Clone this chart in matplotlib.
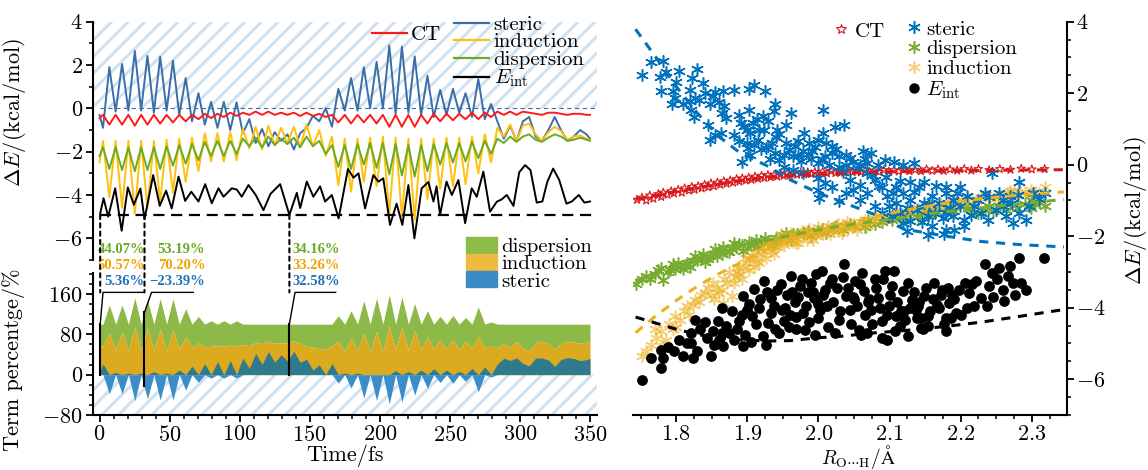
import numpy as np
import matplotlib.pyplot as plt
from matplotlib.patches import Patch, ConnectionPatch
from matplotlib.lines import Line2D
from matplotlib.ticker import MultipleLocator

plt.rcParams['font.family'] = 'serif'
plt.rcParams['font.serif'] = ['cmr10']
plt.rcParams['mathtext.fontset'] = 'cm'
plt.rcParams['axes.formatter.use_mathtext'] = True
plt.rcParams['hatch.linewidth'] = 2.2

# ---------------- left panel: energy terms along the trajectory ----------------
time_fs = [0, 2.5, 7.0, 11.5, 16.1, 20.6, 25.2, 29.7, 34.2, 38.8,
           43.3, 47.9, 52.4, 56.9, 61.5, 66.0, 70.6, 75.1, 79.6, 84.2,
           88.7, 93.3, 97.8, 102.3, 106.9, 111.4, 116.0, 120.5, 125.0, 129.6,
           134.1, 138.7, 143.2, 147.7, 152.3, 156.8, 161.4, 165.9, 170.4, 175.0,
           179.5, 184.1, 188.6, 193.1, 197.7, 202.2, 206.8, 211.3, 215.8, 220.4,
           224.9, 229.5, 234.0, 238.5, 243.1, 247.6, 252.2, 256.7, 261.2, 265.8,
           270.3, 274.9, 279.4, 283.9, 288.5, 293.0, 297.6, 302.1, 306.6, 311.2,
           315.7, 320.3, 324.8, 329.3, 333.9, 338.4, 343.0, 347.5, 350.0]

steric = [-0.3, -0.9, 1.9, -0.15, 2.05, -0.1, 2.65, -0.1, 2.42, -0.2,
          2.38, -0.1, 2.2, -0.3, 1.4, -0.6, 0.7, -0.75, 0.3, -0.9,
          0.3, -1.0, 0.28, -1.15, -0.5, -1.6, -0.95, -1.75, -1.1, -1.5,
          -1.2, -1.9, -1.15, -0.9, -0.35, -0.6, 0.0, -0.85, 0.9, -0.1,
          1.4, -0.1, 1.9, 0.0, 2.15, 0.0, 2.9, -0.25, 2.85, -0.2,
          2.4, -0.3, 1.5, -0.4, 0.85, -0.3, 0.9, -0.2, 0.7, -0.4,
          1.35, -0.5, 0.2, -0.6, -1.4, -0.8, -1.5, -0.6, -0.4, -1.3,
          -1.5, -1.0, -0.4, -1.0, -1.5, -1.3, -1.0, -1.2, -1.4]

induction = [-2.5, -1.5, -4.1, -1.5, -4.6, -1.5, -4.85, -1.5, -4.6, -1.5,
             -4.3, -1.45, -3.9, -1.4, -3.4, -1.35, -2.9, -1.15, -2.45, -1.15,
             -2.45, -1.1, -2.4, -0.95, -1.85, -0.85, -1.9, -0.8, -1.7, -0.9,
             -1.6, -0.85, -1.8, -0.75, -1.75, -1.0, -2.2, -1.3, -3.55, -1.4,
             -3.85, -1.4, -3.4, -1.35, -3.6, -1.3, -4.85, -1.35, -5.0, -1.4,
             -5.15, -1.4, -4.2, -1.4, -3.7, -1.35, -3.6, -1.35, -3.5, -1.3,
             -3.0, -1.2, -2.5, -0.9, -1.3, -0.75, -1.5, -0.8, -0.7, -1.2,
             -1.5, -1.1, -0.85, -1.05, -1.45, -1.3, -1.25, -1.4, -1.45]

dispersion = [-2.2, -1.8, -2.8, -1.8, -2.85, -1.8, -2.9, -1.8, -2.85, -1.8,
              -2.8, -1.75, -2.65, -1.7, -2.55, -1.65, -2.4, -1.55, -2.2, -1.5,
              -2.2, -1.5, -2.1, -1.4, -1.75, -1.35, -1.8, -1.3, -1.7, -1.4,
              -1.65, -1.35, -1.8, -1.3, -1.75, -1.5, -2.1, -1.7, -2.7, -1.7,
              -2.8, -1.65, -2.6, -1.6, -2.75, -1.6, -3.05, -1.65, -3.1, -1.7,
              -3.15, -1.7, -2.9, -1.65, -2.6, -1.6, -2.5, -1.6, -2.45, -1.55,
              -2.3, -1.5, -2.1, -1.4, -1.6, -1.3, -1.55, -1.3, -1.2, -1.45,
              -1.55, -1.35, -1.2, -1.3, -1.5, -1.45, -1.35, -1.45, -1.5]

ct = [-0.45, -0.3, -0.75, -0.3, -0.75, -0.3, -0.8, -0.3, -0.75, -0.3,
      -0.7, -0.3, -0.65, -0.3, -0.6, -0.3, -0.5, -0.25, -0.45, -0.25,
      -0.4, -0.2, -0.35, -0.2, -0.3, -0.15, -0.3, -0.15, -0.3, -0.2,
      -0.3, -0.2, -0.35, -0.2, -0.35, -0.25, -0.4, -0.3, -0.65, -0.3,
      -0.7, -0.3, -0.65, -0.3, -0.7, -0.3, -0.85, -0.3, -0.85, -0.3,
      -0.85, -0.3, -0.7, -0.25, -0.6, -0.25, -0.55, -0.25, -0.5, -0.2,
      -0.5, -0.2, -0.4, -0.15, -0.3, -0.15, -0.3, -0.15, -0.2, -0.25,
      -0.3, -0.2, -0.2, -0.25, -0.3, -0.25, -0.25, -0.3, -0.3]

time_int = [0.5, 2.9, 6.2, 11.2, 15.8, 20.2, 24.5, 29.2, 32.1, 38.3,
            43.0, 47.5, 51.5, 56.4, 61.1, 65.5, 70.6, 75.4, 80.1, 84.9,
            88.5, 94.4, 98.0, 101.5, 106.3, 111.5, 117.0, 122.0, 128.9, 135.5,
            140.8, 143.2, 147.9, 152.6, 157.4, 161.0, 165.8, 170.6, 177.3, 181.2,
            184.8, 189.5, 195.4, 199.0, 202.5, 207.3, 212.0, 216.1, 220.4, 224.7,
            229.9, 234.7, 238.3, 240.5, 243.0, 247.6, 251.4, 256.1, 260.9, 265.6,
            269.2, 273.9, 278.7, 283.5, 287.0, 290.6, 295.4, 299.5, 303.7, 307.5,
            312.0, 316.0, 319.5, 323.7, 328.0, 333.2, 337.0, 342.0, 346.0, 350.0]
e_int = [-4.85, -4.15, -5.0, -3.69, -5.65, -3.65, -4.45, -3.7, -5.12, -3.08,
         -4.5, -3.8, -4.62, -3.15, -4.27, -3.85, -4.3, -3.5, -4.38, -3.69,
         -4.08, -3.69, -3.75, -4.08, -3.54, -4.0, -4.7, -3.95, -3.5, -4.92,
         -3.9, -4.6, -3.38, -4.08, -3.6, -4.3, -4.0, -5.08, -2.8, -3.2,
         -3.0, -4.62, -3.08, -3.38, -3.23, -5.38, -4.4, -5.38, -3.54, -6.0,
         -3.69, -3.4, -4.3, -3.6, -4.92, -3.38, -4.0, -3.31, -5.3, -3.69,
         -4.08, -2.92, -4.77, -4.31, -4.2, -4.0, -4.5, -2.95, -2.62, -2.85,
         -4.35, -4.3, -3.4, -2.78, -3.3, -4.4, -4.3, -4.0, -4.35, -4.3]

e_int_min = -4.92
ann_t = [0.5, 32.1, 135.5]
ann_disp = [44.07, 53.19, 34.16]
ann_ind = [50.57, 70.20, 33.26]
ann_ster = [5.36, -23.39, 32.58]

# ---------------- right panel: terms vs O...H distance ----------------
ct_R = [1.745, 1.752, 1.758, 1.763, 1.768, 1.775, 1.779, 1.782, 1.788, 1.793,
        1.797, 1.803, 1.808, 1.812, 1.818, 1.822, 1.826, 1.831, 1.836, 1.84,
        1.845, 1.849, 1.853, 1.858, 1.862, 1.867, 1.871, 1.876, 1.88, 1.885,
        1.889, 1.893, 1.898, 1.902, 1.906, 1.911, 1.915, 1.92, 1.924, 1.929,
        1.933, 1.938, 1.942, 1.947, 1.951, 1.956, 1.96, 1.965, 1.97, 1.975,
        1.98, 1.985, 1.99, 1.995, 2.0, 2.006, 2.012, 2.018, 2.024, 2.03,
        2.036, 2.042, 2.048, 2.054, 2.06, 2.066, 2.072, 2.078, 2.085, 2.092,
        2.099, 2.106, 2.113, 2.12, 2.128, 2.136, 2.144, 2.152, 2.16, 2.168,
        2.176, 2.185, 2.195, 2.205, 2.215, 2.225, 2.24, 2.255, 2.27, 2.285,
        2.3, 2.318]
ct_E = [-0.98, -0.92, -1.0, -0.86, -0.95, -0.82, -0.9, -0.78, -0.84, -0.74,
        -0.8, -0.7, -0.78, -0.66, -0.72, -0.62, -0.7, -0.6, -0.66, -0.56,
        -0.63, -0.52, -0.6, -0.5, -0.56, -0.46, -0.53, -0.44, -0.5, -0.4,
        -0.47, -0.38, -0.44, -0.36, -0.42, -0.33, -0.39, -0.31, -0.37, -0.29,
        -0.35, -0.28, -0.33, -0.26, -0.31, -0.24, -0.3, -0.23, -0.28, -0.22,
        -0.27, -0.21, -0.26, -0.2, -0.25, -0.19, -0.24, -0.18, -0.23, -0.18,
        -0.22, -0.17, -0.21, -0.17, -0.21, -0.16, -0.2, -0.16, -0.2, -0.15,
        -0.19, -0.15, -0.19, -0.14, -0.18, -0.14, -0.18, -0.13, -0.17, -0.13,
        -0.17, -0.13, -0.16, -0.12, -0.16, -0.12, -0.15, -0.12, -0.14, -0.11,
        -0.13, -0.12]

ster_R = [1.7515, 1.765, 1.7815, 1.778, 1.7865, 1.804, 1.823, 1.83, 1.838, 1.779,
          1.795, 1.794, 1.799, 1.81, 1.819, 1.8265, 1.8215, 1.825, 1.8315, 1.848,
          1.8515, 1.855, 1.8665, 1.8815, 1.903, 1.91, 1.925, 1.865, 1.868, 1.845,
          1.854, 1.863, 1.848, 1.8815, 1.888, 1.8915, 1.895, 1.899, 1.903, 1.908,
          1.914, 1.9215, 1.9165, 1.904, 1.889, 1.899, 1.91, 1.904, 1.893, 1.9015,
          1.924, 1.929, 1.938, 1.939, 1.9415, 1.954, 1.9615, 1.929, 1.94, 1.9315,
          1.9265, 1.939, 1.944, 1.9515, 1.959, 1.9665, 1.9715, 1.98, 1.9715, 1.979,
          1.9865, 1.9915, 1.999, 2.0065, 2.0065, 2.01, 2.019, 2.023, 2.0365, 1.989,
          1.999, 2.009, 2.019, 2.029, 2.039, 2.063, 2.074, 2.029, 2.039, 2.049,
          2.059, 2.069, 2.084, 2.094, 2.1065, 2.119, 2.134, 1.9515, 1.964, 1.979,
          1.999, 2.009, 1.999, 2.0015, 2.029, 2.044, 2.059, 2.069, 2.079, 2.089,
          2.0965, 2.109, 2.119, 2.129, 2.1415, 2.149, 2.159, 2.169, 2.179, 2.189,
          2.209, 2.219, 2.2335, 2.2435, 2.2535, 2.269, 2.2815, 2.2715, 2.2815, 2.2915,
          2.3015, 2.319, 2.264, 2.274, 2.179, 2.154, 2.129, 2.114, 2.099, 2.204,
          2.229, 2.249, 2.2955, 2.124, 2.154, 2.1765, 2.19, 2.204, 2.059, 2.079,
          2.089, 2.104, 2.119, 2.139, 2.149, 2.164, 2.189, 2.199, 2.159, 2.179,
          2.239, 2.259, 2.069, 2.049, 2.039, 2.019, 2.109, 2.129, 2.179, 2.199,
          1.915, 1.92, 1.935, 1.945, 1.955, 1.965, 1.975, 1.985, 1.995, 2.005,
          2.015, 2.025, 2.035, 2.045, 2.055, 2.065, 2.075, 2.085, 2.095, 2.105,
          2.115, 2.125, 2.135, 2.145, 2.155, 2.165, 2.175, 2.185, 2.195, 2.215,
          2.225, 2.24, 2.26, 2.28, 2.31, 1.87, 1.84, 1.86, 1.8, 1.82]
ster_E = [2.51, 2.87, 2.89, 2.45, 2.58, 2.63, 2.42, 2.67, 2.28, 2.05,
          2.05, 1.70, 1.86, 1.70, 1.77, 1.86, 1.54, 1.33, 1.82, 1.70,
          1.91, 2.02, 2.05, 2.08, 2.11, 2.23, 2.05, 1.44, 1.65, 1.12,
          0.84, 0.88, 0.70, 0.84, 1.40, 1.18, 1.09, 0.98, 1.54, 1.16,
          1.28, 1.35, 0.98, 0.88, 0.65, 0.61, 0.56, 0.28, 0.09, 0.47,
          0.98, 1.21, 1.49, 1.70, 0.96, 1.12, 1.44, 0.51, 0.77, 0.16,
          0.47, 0.33, 0.14, 0.28, 0.42, 0.51, 0.65, 0.88, 0.23, 0.37,
          0.61, 0.37, 0.70, 0.88, 1.54, 0.61, 0.51, 1.05, 1.12, 0.16,
          0.05, 0.23, 0.33, 0.23, 0.28, 0.37, 0.33, -0.05, 0.0, 0.09,
          0.0, 0.05, 0.0, 0.14, 0.09, 0.0, 0.05, -0.05, -0.14, -0.23,
          -0.37, -0.51, -0.70, -0.93, -1.02, -0.42, -0.56, -0.23, -0.42, -0.61,
          -0.88, -1.07, -0.79, -0.98, -0.61, -0.47, -0.88, -1.07, -0.79, -0.98,
          -0.88, -1.16, -0.79, -0.23, -0.79, -0.88, -0.49, -1.07, -1.35, -1.54,
          -0.79, -0.79, -1.44, -1.63, -1.35, -1.44, -1.58, -1.35, -1.16, -1.54,
          -1.35, -1.26, -1.16, -1.86, -1.96, -1.93, -1.82, -1.72, -0.98, -1.16,
          -1.35, -1.44, -1.63, -1.26, -1.07, -1.35, -1.44, -1.16, -1.72, -1.82,
          -1.54, -1.16, -0.79, -0.70, -0.79, -0.61, -0.61, -0.47, -0.61, -0.61,
          0.7, 0.45, 0.6, 0.85, 0.6, 0.25, 0.1, 0.3, 0.5, 0.15,
          0.0, 0.45, -0.2, 0.2, -0.1, 0.15, -0.3, -0.6, -0.35, -0.8,
          -0.45, -1.2, -0.75, -1.6, -1.1, -0.6, -1.5, -1.2, -0.8, -1.4,
          -1.0, -0.9, -1.0, -0.85, -0.95, 1.3, 2.0, 1.75, 2.3, 2.1]

disp_R = [1.744, 1.752, 1.764, 1.77, 1.779, 1.782, 1.788, 1.795, 1.799, 1.805,
          1.81, 1.815, 1.82, 1.824, 1.829, 1.835, 1.84, 1.847, 1.852, 1.855,
          1.86, 1.864, 1.87, 1.878, 1.884, 1.889, 1.894, 1.899, 1.905, 1.909,
          1.915, 1.92, 1.929, 1.935, 1.939, 1.945, 1.954, 1.962, 1.97, 1.979,
          1.99, 2.0, 2.01, 2.02, 2.035, 2.05, 2.065, 2.079, 2.09, 2.104,
          2.115, 2.129, 2.14, 2.155, 2.165, 2.179, 2.19, 2.204, 2.215, 2.224,
          2.234, 2.245, 2.255, 2.264, 2.279, 2.29, 2.299, 2.299, 2.31, 2.319,
          1.758, 1.775, 1.792, 1.802, 1.812, 1.826, 1.838, 1.845, 1.857, 1.866,
          1.874, 1.882, 1.892, 1.902, 1.912, 1.925, 1.94, 1.955, 1.965, 1.985,
          2.005, 2.025, 2.045, 2.07, 2.1, 2.125, 2.15, 2.185, 2.21, 2.24,
          2.27, 2.305]
disp_E = [-3.35, -3.19, -3.19, -3.05, -2.9, -3.23, -3.0, -2.79, -2.93, -2.85,
          -2.93, -2.75, -2.85, -2.70, -2.67, -2.62, -2.72, -2.56, -2.5, -2.36,
          -2.45, -2.51, -2.4, -2.35, -2.3, -2.23, -2.4, -2.33, -2.25, -2.21,
          -2.3, -2.15, -2.14, -2.25, -2.19, -2.05, -2.0, -2.1, -1.95, -1.91,
          -2.0, -1.85, -1.9, -1.78, -1.82, -1.7, -1.75, -1.65, -1.6, -1.54,
          -1.5, -1.35, -1.45, -1.38, -1.3, -1.21, -1.3, -1.16, -1.25, -1.35,
          -1.26, -1.3, -1.15, -1.26, -1.21, -1.1, -1.21, -0.98, -1.05, -1.16,
          -3.1, -2.95, -2.95, -2.75, -2.8, -2.55, -2.5, -2.65, -2.55, -2.3,
          -2.45, -2.2, -2.25, -2.15, -2.1, -2.05, -2.05, -1.9, -1.95, -1.85,
          -1.8, -1.7, -1.65, -1.55, -1.45, -1.4, -1.3, -1.25, -1.2, -1.15,
          -1.1, -1.1]

ind_R = [1.7515, 1.758, 1.765, 1.772, 1.779, 1.7815, 1.786, 1.79, 1.795, 1.799,
         1.805, 1.8115, 1.818, 1.824, 1.8265, 1.832, 1.84, 1.849, 1.853, 1.858,
         1.864, 1.8665, 1.872, 1.879, 1.8815, 1.885, 1.889, 1.894, 1.899, 1.904,
         1.909, 1.914, 1.919, 1.924, 1.929, 1.934, 1.939, 1.944, 1.949, 1.954,
         1.959, 1.964, 1.969, 1.974, 1.979, 1.984, 1.99, 1.997, 2.004, 2.01,
         2.017, 2.024, 2.029, 2.035, 2.042, 2.05, 2.054, 2.06, 2.068, 2.079,
         2.09, 2.104, 2.115, 2.129, 2.14, 2.154, 2.165, 2.179, 2.19, 2.204,
         2.215, 2.229, 2.24, 2.254, 2.265, 2.269, 2.279, 2.29, 2.299, 2.31, 2.319,
         1.845, 1.852, 1.86, 1.868, 1.875, 1.883, 1.887, 1.892, 1.897, 1.902,
         1.907, 1.912, 1.917, 1.922, 1.927, 1.932, 1.937, 1.942, 1.947, 1.952,
         1.957, 1.962, 1.967, 1.972, 1.977, 1.982, 1.987, 1.993, 2.0, 2.007,
         2.013, 2.02, 2.027, 2.033, 2.04, 2.047, 2.057, 2.065, 2.075, 2.085,
         2.095, 2.11, 2.12, 2.135, 2.148, 2.16, 2.172, 2.185, 2.197, 2.21,
         2.222, 2.235, 2.248, 2.26, 2.275, 2.285, 2.305, 1.77, 1.8, 1.815, 1.835]
ind_E = [-5.35, -5.2, -5.03, -4.85, -4.66, -5.07, -4.9, -4.45, -4.6, -4.23,
         -4.35, -4.1, -4.2, -3.91, -3.77, -3.85, -3.6, -3.63, -3.75, -3.45,
         -3.49, -3.86, -3.3, -3.68, -3.31, -3.0, -3.07, -2.9, -2.75, -2.65,
         -2.85, -2.7, -2.5, -2.42, -2.23, -2.4, -2.3, -2.1, -2.19, -2.05,
         -2.0, -2.15, -2.19, -1.95, -1.96, -2.1, -1.9, -2.0, -1.91, -1.8,
         -1.95, -1.75, -1.86, -1.7, -1.8, -1.65, -1.82, -1.6, -1.7, -1.49,
         -1.55, -1.45, -1.4, -1.35, -1.25, -1.3, -1.15, -1.16, -1.05, -0.98,
         -1.05, -0.93, -0.9, -0.88, -0.8, -0.74, -0.84, -0.75, -0.70, -0.8, -0.62,
         -3.45, -3.3, -3.6, -3.2, -3.0, -3.15, -2.85, -3.2, -2.6, -2.95,
         -2.55, -2.45, -2.75, -2.3, -2.6, -2.15, -2.5, -2.3, -1.95, -2.25,
         -2.1, -1.9, -2.05, -2.2, -1.85, -1.95, -1.8, -2.1, -1.75, -1.95,
         -1.7, -1.85, -1.65, -1.9, -1.6, -1.75, -1.7, -1.55, -1.6, -1.4,
         -1.45, -1.3, -1.5, -1.2, -1.25, -1.05, -1.1, -0.95, -1.1, -0.9,
         -1.0, -0.85, -0.95, -0.9, -0.7, -0.8, -0.75, -4.6, -4.55, -3.95, -3.65]

int_R = [1.7515, 1.765, 1.779, 1.7815, 1.779, 1.788, 1.7965, 1.804, 1.81, 1.8215,
         1.824, 1.8215, 1.8265, 1.834, 1.844, 1.849, 1.853, 1.8515, 1.859, 1.865,
         1.8665, 1.865, 1.875, 1.8815, 1.889, 1.894, 1.894, 1.899, 1.9065, 1.91,
         1.9165, 1.924, 1.9265, 1.929, 1.934, 1.939, 1.9415, 1.949, 1.9515, 1.9565,
         1.9615, 1.9665, 1.969, 1.974, 1.979, 1.9815, 1.989, 1.994, 1.999, 2.005,
         2.009, 2.0115, 2.019, 2.024, 2.029, 2.0365, 2.039, 2.044, 2.0515, 2.0565,
         2.0615, 2.064, 2.069, 2.074, 2.079, 2.084, 2.089, 2.094, 2.099, 2.0965,
         2.104, 2.1065, 2.109, 2.114, 2.119, 2.1265, 2.1315, 2.1365, 2.144, 2.149,
         2.154, 2.163, 2.1665, 2.174, 2.179, 2.184, 2.188, 2.194, 2.2065, 2.209,
         2.2165, 2.229, 2.234, 2.24, 2.2445, 2.254, 2.259, 2.269, 2.274, 2.2765,
         2.2815, 2.2915, 2.3165, 2.2615, 2.2365, 2.179, 2.154, 2.144, 2.0, 1.985,
         2.05, 2.12, 1.96, 2.07, 2.14,
         1.885, 1.892, 1.897, 1.903, 1.912, 1.918, 1.922, 1.928, 1.933, 1.937,
         1.944, 1.947, 1.953, 1.958, 1.963, 1.968, 1.972, 1.977, 1.983, 1.987,
         1.992, 1.996, 2.002, 2.007, 2.013, 2.016, 2.021, 2.026, 2.031, 2.034,
         2.041, 2.046, 2.049, 2.054, 2.058, 2.066, 2.071, 2.076, 2.081, 2.086,
         2.091, 2.096, 2.101, 2.107, 2.111, 2.116, 2.122, 2.126, 2.129, 2.134,
         2.139, 2.142, 2.147, 2.151, 2.157, 2.161, 2.169, 2.172, 2.177, 2.182,
         2.186, 2.191, 2.197, 2.201, 2.212, 2.219, 2.222, 2.246, 2.251, 2.266,
         2.285, 1.86, 1.87, 1.878, 1.84, 1.815, 1.83, 1.905, 1.995, 2.06, 2.09]
int_E = [-6.02, -5.4, -5.68, -5.4, -5.17, -5.09, -5.21, -4.89, -5.35, -4.98,
         -5.4, -4.70, -4.33, -4.59, -4.84, -5.35, -5.03, -4.66, -4.38, -4.70,
         -5.07, -4.00, -4.72, -4.89, -4.38, -5.07, -3.68, -4.05, -4.24, -3.47,
         -4.0, -3.26, -5.03, -4.42, -3.72, -4.59, -3.49, -4.05, -4.38, -3.63,
         -3.12, -3.85, -4.59, -3.40, -4.14, -4.61, -3.31, -3.72, -4.28, -2.98,
         -3.49, -3.96, -3.21, -4.70, -4.33, -2.79, -3.68, -4.05, -3.26, -4.61,
         -3.03, -3.54, -4.70, -4.05, -3.21, -3.72, -4.38, -2.98, -3.96, -4.89,
         -3.40, -2.98, -4.24, -4.52, -3.54, -4.80, -3.77, -4.05, -4.56, -3.68,
         -4.24, -3.31, -3.91, -3.49, -4.28, -3.86, -3.63, -4.14, -3.31, -4.0,
         -3.35, -3.72, -2.79, -3.38, -3.03, -2.89, -3.49, -2.84, -3.31, -3.63,
         -2.61, -3.49, -2.61, -3.82, -3.96, -4.66, -4.5, -4.3, -3.9, -3.55,
         -3.75, -4.1, -4.2, -3.85, -3.95,
         -4.6, -4.2, -4.75, -3.9, -4.45, -3.75, -4.8, -3.55, -4.15, -3.95,
         -4.7, -3.35, -4.0, -4.55, -3.55, -4.25, -3.7, -3.2, -3.95, -4.4,
         -3.55, -3.05, -4.05, -3.65, -4.55, -3.3, -3.85, -3.45, -4.1, -3.15,
         -3.45, -4.45, -3.7, -3.95, -3.35, -4.2, -3.75, -4.45, -3.45, -4.0,
         -3.2, -4.2, -3.65, -4.65, -3.85, -4.1, -4.35, -3.3, -4.0, -3.55,
         -4.3, -3.85, -4.6, -3.45, -4.1, -3.75, -4.0, -3.65, -4.45, -3.45,
         -4.3, -3.75, -3.5, -4.2, -3.6, -3.95, -3.25, -3.7, -3.2, -3.1,
         -3.3, -4.9, -4.5, -4.1, -4.4, -5.0, -5.2, -4.95, -4.75, -4.75, -4.85]

# fitted trend lines
fit_R = [1.743, 1.77, 1.8, 1.83, 1.86, 1.89, 1.93, 1.96, 2.0, 2.03,
         2.08, 2.12, 2.18, 2.23, 2.28, 2.345]
fit_ster = [3.79, 3.05, 2.19, 1.44, 0.79, 0.33, -0.05, -0.42, -0.79, -1.02,
            -1.4, -1.8, -2.0, -2.15, -2.23, -2.3]
fit_ct = [-0.97, -0.86, -0.75, -0.64, -0.54, -0.45, -0.36, -0.31, -0.26, -0.24,
          -0.21, -0.19, -0.17, -0.16, -0.15, -0.14]
fit_ind = [-4.7, -4.25, -3.8, -3.4, -3.05, -2.75, -2.35, -2.1, -1.85, -1.7,
           -1.45, -1.28, -1.07, -0.95, -0.85, -0.76]
fit_disp = [-3.25, -3.05, -2.85, -2.64, -2.45, -2.28, -2.1, -1.98, -1.82, -1.72,
            -1.58, -1.47, -1.31, -1.2, -1.1, -0.97]
fit_int = [-4.26, -4.42, -4.6, -4.75, -4.85, -4.9, -4.93, -4.92, -4.84, -4.8,
           -4.7, -4.64, -4.52, -4.4, -4.25, -4.05]

# ---------------- styling ----------------
c_ster, c_ind, c_disp, c_ct = '#3b6ea8', '#ffc00e', '#6aab23', '#ff1a1a'
hatch_c = '#cfe2f2'
W, H = 1148, 470
tick_fs, lab_fs, leg_fs = 16, 16, 15

fig = plt.figure(figsize=(W / 100, H / 100), dpi=100)
ax1 = fig.add_axes([92.5 / W, 210 / H, 504.5 / W, 238.3 / H])
ax2 = fig.add_axes([92.5 / W, 55 / H, 504.5 / W, 142.3 / H])
ax3 = fig.add_axes([632.7 / W, 55 / H, 434 / W, 393.3 / H])
for ax in (ax1, ax2, ax3):
    ax.set_facecolor('none')
    for s in ax.spines.values():
        s.set_linewidth(1.5)
    ax.tick_params(which='major', direction='out', length=5, width=1.3,
                   labelsize=tick_fs, pad=2)
    ax.tick_params(which='minor', direction='out', length=3, width=1.1)

# top-left: energies
t = np.array(time_fs)
ax1.axhspan(0, 4, facecolor='none', edgecolor=hatch_c, hatch='//', lw=0, zorder=0)
ax1.hlines(0, t[0], 355, colors=c_ster, linestyles=(0, (4, 3)), lw=0.8, zorder=1)
ax1.hlines(e_int_min, ann_t[0], 355, colors='k', linestyles=(0, (5, 3)), lw=1.6, zorder=5)
ax1.plot(t, steric, color=c_ster, lw=1.4, zorder=2)
ax1.plot(t, ct, color=c_ct, lw=1.4, zorder=3)
ax1.plot(t, induction, color=c_ind, lw=1.4, zorder=3)
ax1.plot(t, dispersion, color=c_disp, lw=1.4, zorder=3)
ax1.plot(time_int, e_int, color='k', lw=1.4, zorder=4)
ax1.set_xlim(-5, 355)
ax1.set_ylim(-7, 4)
ax1.spines[['top', 'right', 'bottom']].set_visible(False)
ax1.tick_params(axis='x', which='both', bottom=False, labelbottom=False)
ax1.yaxis.set_major_locator(MultipleLocator(2))
ax1.yaxis.set_minor_locator(MultipleLocator(1))
ax1.set_ylabel(r'$\Delta E/(\mathrm{kcal/mol})$', fontsize=lab_fs)
ax1.yaxis.set_label_coords(-0.128, 0.62)

h_ct = [Line2D([], [], color=c_ct, lw=1.6)]
leg_a = ax1.legend(h_ct, ['CT'], loc='upper left', bbox_to_anchor=(0.554, 0.983),
                   frameon=False, fontsize=leg_fs, borderpad=0, borderaxespad=0,
                   handlelength=1.7, handletextpad=0.17)
ax1.add_artist(leg_a)
h_terms = [Line2D([], [], color=c, lw=1.6) for c in (c_ster, c_ind, c_disp, 'k')]
ax1.legend(h_terms, ['steric', 'induction', 'dispersion', r'$E_{\rm int}$'],
           loc='upper left', bbox_to_anchor=(0.7166, 1.027), frameon=False,
           fontsize=leg_fs, borderpad=0, borderaxespad=0, handlelength=1.7,
           handletextpad=0.2, labelspacing=-0.05)

# bottom-left: percentages of the three terms
S, I, D = np.array(steric), np.array(induction), np.array(dispersion)
tot = S + I + D
p_ster, p_ind, p_disp = 100 * S / tot, 100 * I / tot, 100 * D / tot
pos = np.clip(p_ster, 0, None)
neg = np.clip(p_ster, None, 0)
top_ind = pos + p_ind
top_all = top_ind + p_disp

ax2.axhspan(-80, 0, facecolor='none', edgecolor=hatch_c, hatch='//', lw=0, zorder=0)
ax2.fill_between(t, top_ind, top_all, color='#8cb947', lw=0, zorder=1)
ax2.fill_between(t, 0, top_ind, color='#dcaa1e', lw=0, zorder=1)
ax2.fill_between(t, 0, pos, color='#2f7a8c', lw=0, zorder=2)
ax2.fill_between(t, neg, 0, color='#3a8dc8', lw=0, zorder=2)
ax2.set_xlim(-5, 355)
ax2.set_ylim(-80, 202)
ax2.spines[['top', 'right']].set_visible(False)
ax2.set_yticks([-80, 0, 80, 160])
ax2.yaxis.set_minor_locator(MultipleLocator(20))
ax2.xaxis.set_major_locator(MultipleLocator(50))
ax2.xaxis.set_minor_locator(MultipleLocator(10))
ax2.set_xlim(-5, 355)
ax2.set_xlabel('Time/fs', fontsize=lab_fs, labelpad=0)
ax2.set_ylabel('Term percentge/%', fontsize=lab_fs)
ax2.yaxis.set_label_coords(-0.134, 0.39)

lead_y = 163
lead_dx = [2.0, 5.0, 4.0]
lead_end = [31.5, 66.9, 168.5]
text_right = [32.4, 75.5, 171.7]
for k, tk in enumerate(ann_t):
    lo = min(0, ann_ster[k])
    hi = 100 - lo
    ax2.plot([tk, tk], [lo, hi], color='k', lw=1.5, zorder=6)
    ax2.plot([tk, tk + lead_dx[k], lead_end[k]], [hi, lead_y, lead_y], color='k',
             lw=1.0, zorder=6, clip_on=False)
    con = ConnectionPatch(xyA=(tk, e_int_min), coordsA='data', axesA=ax1,
                          xyB=(tk, lead_y), coordsB='data', axesB=ax2,
                          color='k', lw=1.5, linestyle=(0, (2, 2)), zorder=6)
    fig.add_artist(con)
    for val, yy, col in ((ann_disp[k], 247, '#6aa820'), (ann_ind[k], 217, '#f0a400'),
                         (ann_ster[k], 184, '#1e72b8')):
        txt = ('%.2f%%' % val).replace('-', '\u2212')
        ax2.text(text_right[k], yy, txt, color=col, fontsize=10.5,
                 family='Liberation Serif', weight='bold', ha='right', va='center',
                 clip_on=False, zorder=7)

h_pct = [Patch(color='#8cbb48'), Patch(color='#f0b93f'), Patch(color='#3a8cc4')]
ax2.legend(h_pct, ['dispersion', 'induction', 'steric'], loc='upper left',
           bbox_to_anchor=(0.74, 1.25), frameon=False, fontsize=leg_fs,
           borderpad=0, borderaxespad=0, handlelength=1.5, handleheight=0.8,
           handletextpad=0.2, labelspacing=-0.1)

# right: scatter against distance
ast = (6, 2, 0)
ax3.scatter(disp_R, disp_E, marker=ast, s=70, color='#77ac30', lw=1.1, zorder=2)
ax3.scatter(ind_R, ind_E, marker=ast, s=70, color='#edb120', alpha=0.6, lw=1.1, zorder=3)
ax3.scatter(ct_R, ct_E, marker='*', s=40, facecolors='none', edgecolors='#d7191c',
            lw=0.8, zorder=3)
ax3.scatter(ster_R, ster_E, marker=ast, s=70, color='#0072bd', lw=1.1, zorder=4)
ax3.scatter(int_R, int_E, marker='o', s=60, color='k', lw=0, zorder=5)
dash = (0, (3, 2.5))
for yv, col in ((fit_ster, '#0072bd'), (fit_ct, '#d7191c'), (fit_ind, '#edb120'),
                (fit_disp, '#77ac30'), (fit_int, 'k')):
    ax3.plot(fit_R, yv, color=col, lw=2.2, linestyle=dash, zorder=6)
ax3.set_xlim(1.739, 2.349)
ax3.set_ylim(-7, 4)
ax3.spines[['top', 'left']].set_visible(False)
ax3.yaxis.tick_right()
ax3.yaxis.set_label_position('right')
ax3.xaxis.set_major_locator(MultipleLocator(0.1))
ax3.xaxis.set_minor_locator(MultipleLocator(0.025))
ax3.yaxis.set_major_locator(MultipleLocator(2))
ax3.yaxis.set_minor_locator(MultipleLocator(0.5))
ax3.set_xlabel(r'$R_{\rm O\cdots H}/\mathrm{\AA}$', fontsize=14)
ax3.xaxis.set_label_coords(0.52, -0.071)
ax3.set_ylabel(r'$\Delta E/(\mathrm{kcal/mol})$', fontsize=lab_fs)
ax3.yaxis.set_label_coords(1.127, 0.52)

h3a = [Line2D([], [], ls='none', marker='*', ms=7, mfc='none', mec='#d7191c', mew=0.8)]
leg_b = ax3.legend(h3a, ['CT'], loc='upper left', bbox_to_anchor=(0.456, 0.999),
                   frameon=False, fontsize=leg_fs, borderpad=0, borderaxespad=0,
                   handlelength=1.0, handletextpad=0.17)
ax3.add_artist(leg_b)
h3b = [Line2D([], [], ls='none', marker=ast, ms=9, color='#0072bd', mew=1.1),
       Line2D([], [], ls='none', marker=ast, ms=9, color='#77ac30', mew=1.1),
       Line2D([], [], ls='none', marker=ast, ms=9, color='#edb120', alpha=0.6, mew=1.1),
       Line2D([], [], ls='none', marker='o', ms=6.5, color='k')]
ax3.legend(h3b, ['steric', 'dispersion', 'induction', r'$E_{\rm int}$'],
           loc='upper left', bbox_to_anchor=(0.624, 1.004), frameon=False,
           fontsize=leg_fs, borderpad=0, borderaxespad=0, handlelength=1.0,
           handletextpad=0.1, labelspacing=0.05)

fig.savefig('out.png', dpi=100)
